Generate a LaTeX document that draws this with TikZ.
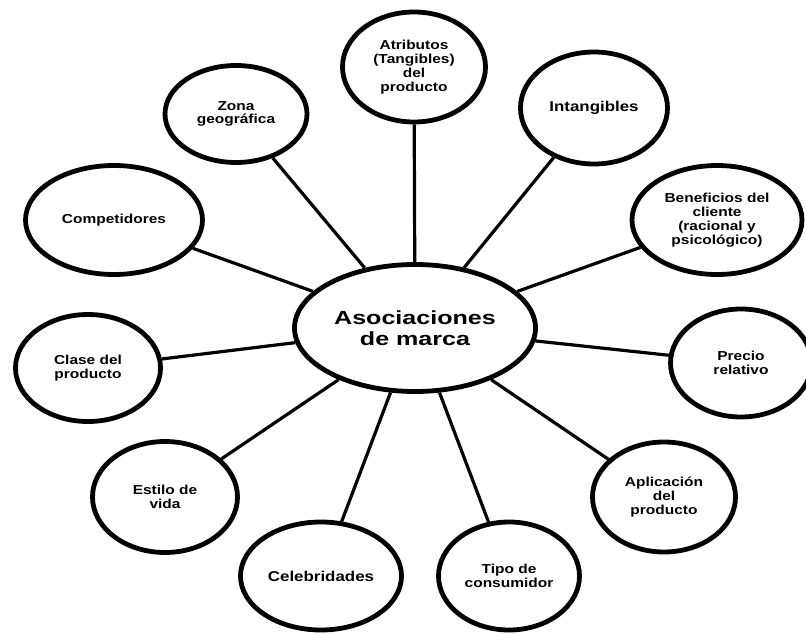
\documentclass[tikz,border=0pt]{standalone}
\usepackage{fontspec}
\setmainfont{Liberation Sans}[FakeStretch=1.19]
\newfontfamily\bigfont{Liberation Sans}[FakeStretch=1.32]
\usetikzlibrary{shapes.geometric}
\tikzset{
  bubble/.style={ellipse, draw=black, line width=4.8pt, fill=white, inner sep=0pt,
    align=center, font=\bfseries\fontsize{13}{13.8}\selectfont},
  bigger/.style={font=\bfseries\fontsize{14.2}{15}\selectfont},
  hub/.style={ellipse, draw=black, line width=4.8pt, fill=white, inner sep=0pt,
    align=center, font=\bigfont\bfseries\fontsize{19}{21}\selectfont},
  link/.style={draw=black, line width=3.2pt}
}
\begin{document}
\begin{tikzpicture}[x=1pt,y=-1pt]
\useasboundingbox (0,0) rectangle (806,634);
% hub
\node[hub, minimum width=241pt, minimum height=127pt] (c) at (415,328) {Asociaciones\\de marca};
% satellites
\node[bubble, minimum width=143pt, minimum height=110pt] (atr) at (414,67) {Atributos\\(Tangibles)\\del\\producto};
\node[bubble, minimum width=142pt, minimum height=97pt] (zona) at (236,114) {Zona\\geográfica};
\node[bubble, bigger, minimum width=147pt, minimum height=112pt] (intang) at (594,108) {Intangibles};
\node[bubble, minimum width=170pt, minimum height=109pt] (benef) at (717,220) {Beneficios del\\cliente\\(racional y\\psicológico)};
\node[bubble, minimum width=177pt, minimum height=109pt] (comp) at (114,220) {Competidores};
\node[bubble, minimum width=145pt, minimum height=107pt] (clase) at (88,368) {Clase del\\producto};
\node[bubble, minimum width=141pt, minimum height=108pt] (precio) at (741,363) {Precio\\relativo};
\node[bubble, minimum width=145pt, minimum height=111pt] (estilo) at (165,497) {Estilo de\\vida};
\node[bubble, minimum width=143pt, minimum height=110pt] (aplic) at (664,497) {Aplicación\\del\\producto};
\node[bubble, bigger, minimum width=161pt, minimum height=108pt] (celeb) at (321,576) {Celebridades};
\node[bubble, minimum width=141pt, minimum height=108pt] (tipo) at (509,576) {Tipo de\\consumidor};
% connectors
\foreach \n in {atr,zona,intang,benef,comp,clase,precio,estilo,aplic,celeb,tipo}
  \draw[link] (c) -- (\n);
\end{tikzpicture}
\end{document}
